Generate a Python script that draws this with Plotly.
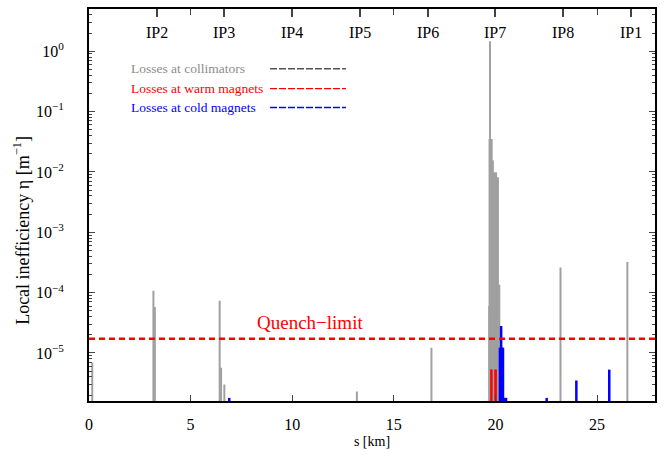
import numpy as np
import plotly.graph_objects as go

# ---------------- data ----------------
coll_s = [0.16, 3.17, 3.24, 6.43, 6.50, 6.66, 13.18, 16.85,
          19.69, 19.71, 19.73, 19.76, 19.79, 19.81, 19.84, 19.87, 19.89,
          19.94, 19.97, 20.00, 20.03, 20.06, 20.09, 20.12, 20.16, 20.19,
          23.20, 26.49]
coll_eta = [6.9e-6, 1.07e-4, 5.8e-5, 7.3e-5, 5.7e-6, 3.0e-6, 2.3e-6, 1.22e-5,
            6e-5, 0.035, 1.46, 0.035, 0.035, 0.035, 0.0154, 0.0154, 0.0098,
            0.0098, 0.0044, 0.0098, 0.0098, 0.0081, 0.0081, 0.0081, 1.35e-4, 1.35e-4,
            2.6e-4, 3.2e-4]

warm_s = [19.78, 19.82, 19.98, 20.03]
warm_eta = [5.3e-6, 5.3e-6, 5.3e-6, 5.3e-6]

cold_s = [6.90, 20.22, 20.25, 20.28, 20.31, 20.34, 20.37, 20.42, 20.47, 20.52,
          22.52, 23.98, 25.60]
cold_eta = [1.8e-6, 1.22e-5, 1.22e-5, 2.8e-5, 1.22e-5, 1.22e-5, 1.22e-5,
            1.8e-6, 1.8e-6, 1.8e-6, 1.8e-6, 3.5e-6, 5.3e-6]

quench_limit = 1.72e-5

ip_names = ["IP2", "IP3", "IP4", "IP5", "IP6", "IP7", "IP8", "IP1"]
ip_pos = [3.33, 6.66, 9.99, 13.33, 16.66, 19.99, 23.32, 26.66]

x_ticks = [0, 5, 10, 15, 20, 25]
y_tickvals = [1e-5, 1e-4, 1e-3, 1e-2, 1e-1, 1e0]
y_ticktext = ["10<sup>\u22125</sup>", "10<sup>\u22124</sup>", "10<sup>\u22123</sup>",
              "10<sup>\u22122</sup>", "10<sup>\u22121</sup>", "10<sup>0</sup>"]
x_range = [0, 27.85]
y_range = [np.log10(1.6e-6), np.log10(5.0)]
BASE = 1e-9

legend_labels = ["Losses at collimators", "Losses at warm magnets", "Losses at cold magnets"]
legend_text_colors = ["#8c8c8c", "#ff0000", "#0000ff"]
legend_line_colors = ["#555555", "#ff0000", "#0000ff"]

FONT = "Liberation Serif"
PLOT_H = 394
PLOT_W = 566


def impulses(s, v):
    xs, ys = [], []
    for a, b in zip(s, v):
        xs += [a, a, None]
        ys += [BASE, b, None]
    return xs, ys


fig = go.Figure()

gx, gy = impulses(coll_s, coll_eta)
fig.add_trace(go.Scatter(x=gx, y=gy, mode="lines", line=dict(color="#a0a0a0", width=2),
                         name=legend_labels[0], showlegend=False, hoverinfo="skip"))
rx, ry = impulses(warm_s, warm_eta)
fig.add_trace(go.Scatter(x=rx, y=ry, mode="lines", line=dict(color="#ff0000", width=1.6),
                         name=legend_labels[1], showlegend=False, hoverinfo="skip"))
bx, by = impulses(cold_s, cold_eta)
fig.add_trace(go.Scatter(x=bx, y=by, mode="lines", line=dict(color="#0000ff", width=2.5),
                         name=legend_labels[2], showlegend=False, hoverinfo="skip"))

# quench limit line
fig.add_trace(go.Scatter(x=x_range, y=[quench_limit, quench_limit], mode="lines",
                         line=dict(color="#ff0000", width=2.5, dash="6px,4px"),
                         showlegend=False, hoverinfo="skip"))

# dummy trace for the top (IP) axis
fig.add_trace(go.Scatter(x=ip_pos, y=[None] * len(ip_pos), xaxis="x2", mode="markers",
                         showlegend=False, hoverinfo="skip"))

annotations = []
for name, p in zip(ip_names, ip_pos):
    annotations.append(dict(x=p, y=1 - 24 / PLOT_H, xref="x", yref="paper", text=name,
                            showarrow=False, xanchor="center", yanchor="middle",
                            font=dict(family=FONT, size=16, color="black")))

annotations.append(dict(x=10.87, y=np.log10(quench_limit), xref="x", yref="y",
                        text="Quench\u2212limit", showarrow=False, yshift=16,
                        xanchor="center", yanchor="middle",
                        font=dict(family=FONT, size=19, color="#ff0000")))

# y-axis title
annotations.append(dict(x=(22 - 89) / PLOT_W, y=1 - (230 - 7) / PLOT_H, xref="paper", yref="paper",
                        text="Local inefficiency \u03b7 [m<sup>\u22121</sup>]", textangle=-90,
                        showarrow=False, xanchor="center", yanchor="middle",
                        font=dict(family=FONT, size=18, color="black")))

shapes = []
leg_y = [1 - 60 / PLOT_H, 1 - 80 / PLOT_H, 1 - 99 / PLOT_H]
for lab, tc, lc, yy in zip(legend_labels, legend_text_colors, legend_line_colors, leg_y):
    annotations.append(dict(x=(129 - 89) / PLOT_W, y=yy, xref="paper", yref="paper", text=lab,
                            showarrow=False, xanchor="left", yanchor="middle",
                            font=dict(family=FONT, size=13.5, color=tc)))
    shapes.append(dict(type="line", xref="paper", yref="paper",
                       x0=(270 - 89) / PLOT_W, x1=(346 - 89) / PLOT_W, y0=yy, y1=yy,
                       line=dict(color=lc, width=1.4, dash="7px,2px")))

fig.update_layout(
    width=664, height=458,
    margin=dict(l=89, r=9, t=7, b=57),
    paper_bgcolor="white", plot_bgcolor="white",
    font=dict(family=FONT, size=16, color="black"),
    showlegend=False,
    annotations=annotations,
    shapes=shapes,
    xaxis=dict(range=x_range, tickvals=x_ticks, ticks="inside", ticklen=6, tickwidth=1,
               showline=True, linewidth=2, linecolor="black", mirror="ticks",
               showgrid=False, zeroline=False, ticklabelstandoff=8,
               title=dict(text="s [km]", font=dict(family=FONT, size=14), standoff=4),
               tickfont=dict(family=FONT, size=16)),
    xaxis2=dict(range=x_range, overlaying="x", side="top", tickvals=ip_pos,
                ticks="inside", ticklen=8, tickwidth=1.5, showticklabels=False,
                showline=False, showgrid=False, zeroline=False),
    yaxis=dict(type="log", range=y_range, tickvals=y_tickvals, ticktext=y_ticktext,
               ticks="inside", ticklen=6, tickwidth=1,
               minor=dict(ticks="inside", ticklen=3, tickwidth=1, dtick="D1", showgrid=False),
               showline=True, linewidth=2, linecolor="black", mirror="ticks",
               showgrid=False, zeroline=False, ticklabelstandoff=20,
               tickfont=dict(family=FONT, size=16)),
)

fig.write_html("out.html")
